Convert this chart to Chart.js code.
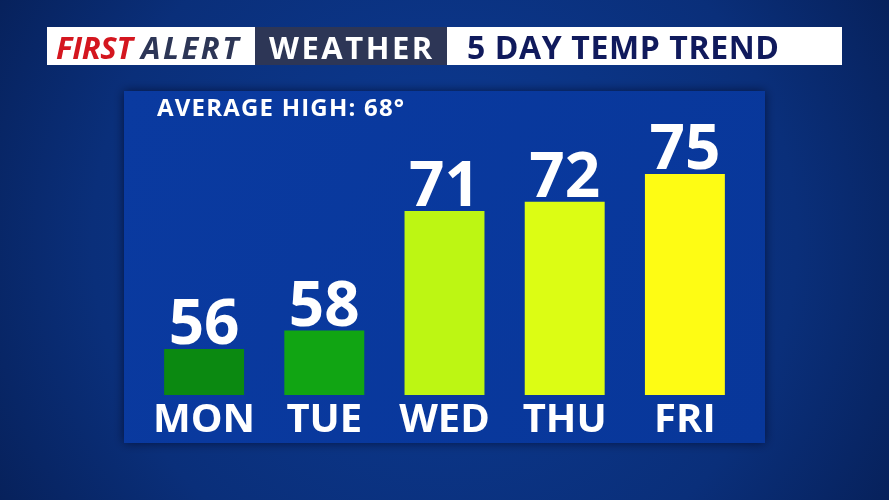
<!DOCTYPE html>
<html>
<head>
<meta charset="utf-8">
<script src="https://cdn.jsdelivr.net/npm/chart.js@4"></script>
<style>
  html, body { margin: 0; padding: 0; background: #082a6e; }
  #wrap { width: 889px; height: 500px; position: relative; }
</style>
</head>
<body>
<div id="wrap"><canvas id="tempChart" width="889" height="500"></canvas></div>
<script>
// Datos del gráfico
const dias = ["MON", "TUE", "WED", "THU", "FRI"];
const maximas = [56, 58, 71, 72, 75];
const coloresBarras = ["#0b8911", "#11a513", "#bdf613", "#dcfd14", "#fefc14"];
const promedio = 68;

const ctx = document.getElementById("tempChart").getContext("2d");

// Fondo, panel y cabecera
const fondoPlugin = {
  id: "fondo",
  beforeDraw(chart) {
    const c = chart.ctx;
    const w = chart.width, h = chart.height;
    c.save();
    const g = c.createRadialGradient(w * 0.5, h * 0.45, 40, w * 0.5, h * 0.5, 560);
    g.addColorStop(0, "#0c3a92");
    g.addColorStop(0.6, "#0a2f7a");
    g.addColorStop(1, "#061d52");
    c.fillStyle = g;
    c.fillRect(0, 0, w, h);

    // panel
    c.shadowColor = "rgba(0,0,20,0.6)";
    c.shadowBlur = 10;
    const pg = c.createLinearGradient(124, 91, 765, 443);
    pg.addColorStop(0, "#0a3aa0");
    pg.addColorStop(1, "#08379a");
    c.fillStyle = pg;
    c.fillRect(124, 91, 641, 352);
    c.shadowBlur = 0;

    // cabecera
    c.fillStyle = "#ffffff";
    c.fillRect(47, 27, 795, 38);
    c.fillStyle = "#2d3656";
    c.fillRect(255, 27, 192, 38);
    c.textBaseline = "alphabetic";
    c.font = "italic bold 31px 'Open Sans'";
    c.letterSpacing = "-0.3px";
    c.fillStyle = "#d4161f";
    c.fillText("FIRST", 56, 59);
    c.letterSpacing = "2.5px";
    c.fillStyle = "#2d3656";
    c.fillText("ALERT", 141, 59);
    c.letterSpacing = "2.5px";
    c.font = "bold 31px 'Open Sans'";
    c.fillStyle = "#ffffff";
    c.fillText("WEATHER", 269, 59);
    c.letterSpacing = "0.6px";
    c.font = "bold 32px 'Open Sans'";
    c.fillStyle = "#101a5c";
    c.fillText("5 DAY TEMP TREND", 467, 59);

    c.letterSpacing = "1.2px";
    c.font = "bold 24px 'Open Sans'";
    c.fillStyle = "#ffffff";
    c.fillText("AVERAGE HIGH: " + promedio + "°", 157, 116);
    c.restore();
  }
};

// Valores y días
const etiquetasPlugin = {
  id: "etiquetas",
  afterDatasetsDraw(chart) {
    const c = chart.ctx;
    const meta = chart.getDatasetMeta(0);
    c.save();
    c.fillStyle = "#ffffff";
    c.textAlign = "center";
    c.textBaseline = "alphabetic";
    meta.data.forEach((bar, i) => {
      c.font = "bold 62px 'Open Sans'";
      c.fillText(String(maximas[i]), bar.x, bar.y - 5);
      c.font = "bold 40px 'Open Sans'";
      c.fillText(dias[i], bar.x, chart.chartArea.bottom + 37);
    });
    c.restore();
  }
};

const tempChart = new Chart(ctx, {
  type: "bar",
  data: {
    labels: dias,
    datasets: [{
      data: maximas,
      backgroundColor: coloresBarras,
      borderWidth: 0,
      barPercentage: 0.665,
      categoryPercentage: 1
    }]
  },
  options: {
    responsive: false,
    animation: false,
    layout: { padding: { left: 144, right: 144, top: 82, bottom: 105 } },
    plugins: { legend: { display: false }, tooltip: { enabled: false } },
    scales: {
      x: { display: false },
      y: { display: false, min: 51, max: 85 }
    }
  },
  plugins: [fondoPlugin, etiquetasPlugin]
});
</script>
</body>
</html>
